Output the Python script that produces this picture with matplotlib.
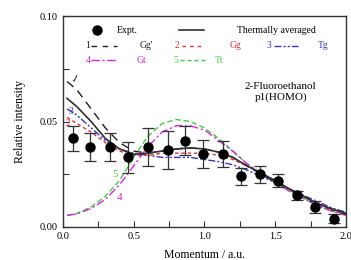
import matplotlib
matplotlib.use("Agg")
import matplotlib.pyplot as plt
from matplotlib.lines import Line2D

plt.rcParams['font.family'] = ['Liberation Serif', 'DejaVu Serif']
plt.rcParams['xtick.direction'] = 'in'
plt.rcParams['ytick.direction'] = 'in'

# experimental points
p_exp = [0.07, 0.19, 0.33, 0.46, 0.60, 0.74, 0.865, 0.99, 1.13, 1.255, 1.39, 1.52, 1.65, 1.78, 1.915]
i_exp = [0.042, 0.038, 0.038, 0.033, 0.038, 0.0365, 0.041, 0.0346, 0.0346, 0.024, 0.025, 0.022, 0.015, 0.0095, 0.004]
e_exp = [0.006, 0.0065, 0.0065, 0.0075, 0.009, 0.009, 0.007, 0.0065, 0.006, 0.004, 0.004, 0.003, 0.002, 0.0028, 0.002]

# theory curves
p_th = [0.03, 0.1, 0.2, 0.3, 0.4, 0.5, 0.6, 0.7, 0.8, 0.9, 1.0, 1.1, 1.2, 1.3, 1.4, 1.5, 1.6, 1.7, 1.8, 1.9, 2.0]
thermal = [0.061, 0.057, 0.050, 0.042, 0.037, 0.0345, 0.035, 0.036, 0.037, 0.0375, 0.037, 0.0355, 0.033, 0.029, 0.0255, 0.022, 0.018, 0.0145, 0.011, 0.0085, 0.0065]
gg1 = [0.069, 0.065, 0.056, 0.047, 0.040, 0.036, 0.035, 0.036, 0.037, 0.0375, 0.037, 0.0355, 0.033, 0.029, 0.025, 0.0215, 0.018, 0.0145, 0.011, 0.0085, 0.006]
gg = [0.052, 0.049, 0.045, 0.040, 0.036, 0.034, 0.034, 0.035, 0.035, 0.035, 0.035, 0.034, 0.032, 0.029, 0.0255, 0.022, 0.018, 0.0145, 0.011, 0.008, 0.006]
tg = [0.056, 0.053, 0.047, 0.041, 0.037, 0.035, 0.034, 0.033, 0.033, 0.033, 0.032, 0.031, 0.0295, 0.027, 0.024, 0.021, 0.018, 0.015, 0.012, 0.009, 0.007]
gt = [0.0055, 0.0062, 0.0088, 0.013, 0.020, 0.029, 0.038, 0.045, 0.048, 0.048, 0.046, 0.041, 0.036, 0.030, 0.0255, 0.021, 0.017, 0.0135, 0.010, 0.0075, 0.0055]
tt = [0.0055, 0.0065, 0.0095, 0.0145, 0.022, 0.033, 0.043, 0.049, 0.051, 0.050, 0.047, 0.042, 0.036, 0.030, 0.025, 0.021, 0.017, 0.0135, 0.010, 0.0075, 0.0055]

fig = plt.figure(figsize=(3.51, 2.60), dpi=100)
ax = fig.add_axes([0.179, 0.127, 0.807, 0.811])

ax.plot(p_th, tt, color='#40d040', ls=(0, (4, 2)), lw=1.0)
ax.plot(p_th, gt, color='#e020e0', ls=(0, (6, 2, 1.5, 2)), lw=1.0)
ax.plot(p_th, tg, color='#3535c8', ls=(0, (5, 1.5, 1.5, 1.5, 1.5, 1.5)), lw=1.0)
ax.plot(p_th, gg, color='#e03030', ls=(0, (2.5, 2)), lw=1.0)
ax.plot(p_th, gg1, color='#202020', ls=(0, (6, 4)), lw=1.0)
ax.plot(p_th, thermal, color='#303030', ls='-', lw=1.2)

ax.errorbar(p_exp, i_exp, yerr=e_exp, fmt='o', color='black', ms=6.5,
            ecolor='#333333', elinewidth=0.9, capsize=4, capthick=0.9)

# curve numbers
ax.text(0.075, 0.070, '1', color='#202020', fontsize=7, rotation=-30, ha='center', va='center')
ax.text(0.035, 0.049, '2', color='#e03030', fontsize=7, ha='center', va='center')
ax.text(0.06, 0.055, '3', color='#3535c8', fontsize=7, ha='center', va='center')
ax.text(0.40, 0.014, '4', color='#e020e0', fontsize=8, ha='center', va='center')
ax.text(0.37, 0.025, '5', color='#40d040', fontsize=8, ha='center', va='center')

# legend drawn by hand
tf = ax.transAxes
def leg_line(x0, x1, y, **kw):
    ax.add_line(Line2D([x0, x1], [y, y], transform=tf, **kw))

ax.plot([0.12], [0.933], 'o', color='black', ms=6.5, transform=tf)
ax.text(0.19, 0.933, 'Expt.', fontsize=7, va='center', transform=tf)
leg_line(0.41, 0.50, 0.933, color='#303030', lw=1.2)
ax.text(0.615, 0.933, 'Thermally averaged', fontsize=7, va='center', transform=tf)

ax.text(0.08, 0.86, '1', fontsize=7, va='center', color='#202020', transform=tf)
leg_line(0.10, 0.19, 0.86, color='#202020', lw=1.0, ls=(0, (4, 4)))
ax.text(0.27, 0.86, "Gg'", fontsize=7, va='center', color='#202020', transform=tf)
ax.text(0.395, 0.86, '2', fontsize=7, va='center', color='#e03030', transform=tf)
leg_line(0.42, 0.50, 0.86, color='#e03030', lw=1.0, ls=(0, (2.5, 3)))
ax.text(0.59, 0.86, 'Gg', fontsize=7, va='center', color='#e03030', transform=tf)
ax.text(0.72, 0.86, '3', fontsize=7, va='center', color='#3535c8', transform=tf)
leg_line(0.745, 0.83, 0.86, color='#3535c8', lw=1.0, ls=(0, (5, 1.5, 1.5, 1.5, 1.5, 1.5)))
ax.text(0.90, 0.86, 'Tg', fontsize=7, va='center', color='#3535c8', transform=tf)

ax.text(0.08, 0.79, '4', fontsize=7, va='center', color='#e020e0', transform=tf)
leg_line(0.10, 0.19, 0.79, color='#e020e0', lw=1.0, ls=(0, (6, 2, 1.5, 2)))
ax.text(0.26, 0.79, 'Gt', fontsize=7, va='center', color='#e020e0', transform=tf)
ax.text(0.39, 0.79, '5', fontsize=7, va='center', color='#40d040', transform=tf)
leg_line(0.415, 0.505, 0.79, color='#40d040', lw=1.0, ls=(0, (3, 2)))
ax.text(0.535, 0.79, 'Tt', fontsize=7, va='center', color='#40d040', transform=tf)

ax.text(0.77, 0.64, '2-Fluoroethanol\np1(HOMO)', fontsize=8, ha='center', va='center',
        linespacing=1.3, transform=tf)

ax.set_xlim(0, 2.0)
ax.set_ylim(0, 0.10)
ax.set_xticks([0.0, 0.5, 1.0, 1.5, 2.0])
ax.set_xticks([0.25, 0.75, 1.25, 1.75], minor=True)
ax.set_yticks([0.0, 0.05, 0.10])
ax.set_yticks([0.025, 0.075], minor=True)
ax.xaxis.set_major_formatter(plt.FormatStrFormatter('%.1f'))
ax.yaxis.set_major_formatter(plt.FormatStrFormatter('%.2f'))
ax.tick_params(which='major', length=4, width=0.8, labelsize=7.5, color='#333333')
ax.tick_params(which='minor', length=4, width=0.8, color='#333333')
for s in ax.spines.values():
    s.set_linewidth(1.0)
    s.set_color('#333333')

ax.set_xlabel('Momentum / a.u.', fontsize=8.5, labelpad=6)
ax.set_ylabel('Relative intensity', fontsize=8.5, labelpad=10)

fig.savefig('out.png', dpi=100)
